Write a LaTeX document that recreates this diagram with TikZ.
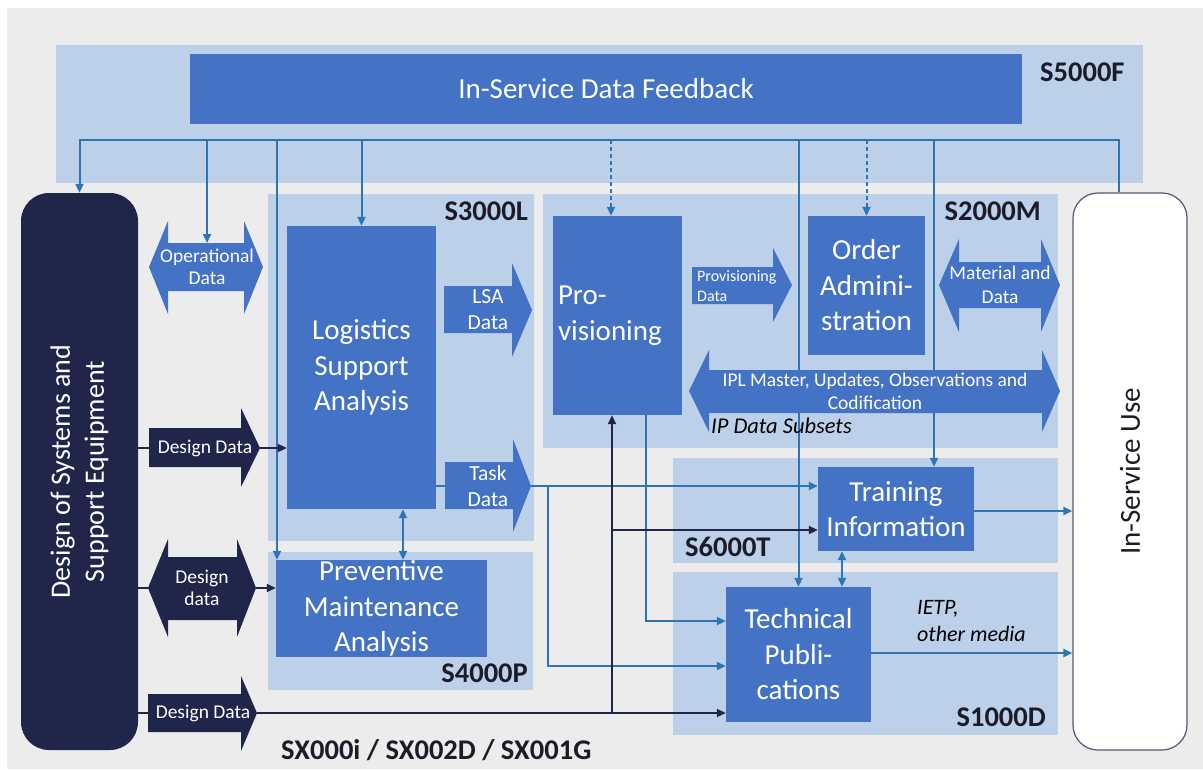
\documentclass[tikz,border=0pt]{standalone}
\usepackage{fontspec}
\setmainfont{Carlito}
\usetikzlibrary{arrows.meta,calc}
\definecolor{bgray}{HTML}{ECECEC}
\definecolor{band}{HTML}{BCD0E9}
\definecolor{boxblue}{HTML}{4472C4}
\definecolor{navy}{HTML}{20264A}
\definecolor{lblue}{HTML}{2E75B6}
\definecolor{lbl}{HTML}{1C1C28}
\definecolor{isuborder}{HTML}{505A6E}
\begin{document}
\begin{tikzpicture}[x=1pt,y=-1pt,
  bandbox/.style={fill=band, draw=none, inner sep=0},
  bluebox/.style={fill=boxblue, draw=none, text=white, inner sep=0, align=center, font=\fontsize{29}{35.5}\selectfont},
  fbl/.style={draw=lblue, line width=2pt},
  nvl/.style={draw=navy, line width=2pt},
  tip/.style={-{Triangle[length=9pt,width=8pt]}},
  dtip/.style={{Triangle[length=9pt,width=8pt]}-{Triangle[length=9pt,width=8pt]}},
  stdlabel/.style={font=\fontsize{28.5}{30}\selectfont\bfseries, text=lbl, inner sep=0},
  smalltxt/.style={text=white, align=center, inner sep=0, font=\fontsize{21.5}{26}\selectfont},
  optxt/.style={text=white, align=center, inner sep=0, font=\fontsize{19.5}{22.5}\selectfont},
  ittxt/.style={text=black, align=left, inner sep=0, font=\fontsize{22.5}{27}\selectfont\itshape},
]
\useasboundingbox (0,0) rectangle (1203,769);
\fill[white] (0,0) rectangle (1203,769);
\fill[bgray] (7,8) rectangle (1203,769);

% bands
\node[bandbox, minimum width=1087, minimum height=138] (s5000f) at (599.5,114) {};
\node[bandbox, minimum width=266, minimum height=347] (s3000l) at (401,367.5) {};
\node[bandbox, minimum width=265, minimum height=138] (s4000p) at (400.5,621) {};
\node[bandbox, minimum width=515, minimum height=254] (s2000m) at (800.5,321) {};
\node[bandbox, minimum width=385, minimum height=105] (s6000t) at (865.5,510.5) {};
\node[bandbox, minimum width=385, minimum height=163] (s1000d) at (865.5,653.5) {};

% main boxes
\node[bluebox, minimum width=832, minimum height=70] (fb) at (606,89) {In-Service Data Feedback};
\node[bluebox, minimum width=149, minimum height=283] (lsa) at (361.5,367.5) {Logistics\\Support\\Analysis};
\node[bluebox, minimum width=211, minimum height=97] (pma) at (381.5,608.5) {Preventive\\Maintenance\\Analysis};
\node[bluebox, minimum height=199, text width=119, inner xsep=5, align=left] (prov) at (617.5,315.5) {Pro-\\visioning};
\node[bluebox, minimum width=117, minimum height=139] (order) at (866.5,285.5) {Order\\Admini-\\stration};
\node[bluebox, minimum width=156, minimum height=84] (train) at (896,509) {Training\\Information};
\node[bluebox, minimum width=145, minimum height=135] (tp) at (798.5,654.5) {Technical\\Publi-\\cations};
\node[fill=navy, rounded corners=28, minimum width=117, minimum height=557, inner sep=0] (design) at (79.5,471.5) {};
\node[rotate=90, text=white, align=center, inner sep=0, font=\fontsize{28}{34}\selectfont] (designtxt) at (design.center) {Design of Systems and\\Support Equipment};
\node[fill=white, draw=isuborder, line width=1.2pt, rounded corners=25, minimum width=114, minimum height=557, inner sep=0] (isu) at (1130,471.5) {};
\node[rotate=90, text=lbl, inner sep=0, font=\fontsize{29}{34}\selectfont] (isutxt) at (isu.center) {In-Service Use};

% named coordinates for connectors
\coordinate (busR) at (1119,140);
\coordinate (opdTop) at (207,243);
\coordinate (xPM) at (277,0);
\coordinate (xProvIn) at (611,0);
\coordinate (xTrIn) at (934,0);
\coordinate (xLP) at (403,0);
\coordinate (xTT) at (842,0);
\coordinate (xTD) at (548,0);
\coordinate (xPB) at (646,0);
\coordinate (xNV) at (612,0);
\coordinate (yTP1) at (0,621);
\coordinate (yTP2) at (0,666);
\coordinate (yTP3) at (0,653);
\coordinate (yTR2) at (0,530);
\coordinate (yTR3) at (0,511);
\coordinate (dd1L) at (149,448);
\coordinate (dd1T) at (260,448);
\coordinate (dd2L) at (148,588);
\coordinate (dd2T) at (256,588);
\coordinate (dd3L) at (148,713);
\coordinate (dd3T) at (257,713);
\coordinate (tdL) at (445,486);
\coordinate (tdT) at (531,486);

% feedback bus
\draw[fbl,tip] (isu.north -| busR) |- (design.north |- busR) -- (design.north);
\draw[fbl,tip] (opdTop |- busR) -- (opdTop);
\draw[fbl,tip] (xPM |- busR) -- (pma.north -| xPM);
\draw[fbl,tip] (lsa.north |- busR) -- (lsa.north);
\draw[fbl,tip,dash pattern=on 4pt off 3pt] (xProvIn |- busR) -- (prov.north -| xProvIn);
\draw[fbl,tip] (tp.north |- busR) -- (tp.north);
\draw[fbl,tip,dash pattern=on 4pt off 3pt] (order.north |- busR) -- (order.north);
\draw[fbl,tip] (xTrIn |- busR) -- (train.north -| xTrIn);

% inner connectors
\draw[fbl,dtip] (lsa.south -| xLP) -- (pma.north -| xLP);
\draw[fbl,dtip] (train.south -| xTT) -- (tp.north -| xTT);
\draw[fbl] (lsa.east |- tdL) -- (tdL);
\draw[fbl,tip] (tdT) -- (train.west |- tdT);
\draw[fbl,tip] (xTD |- tdT) |- (tp.west |- yTP2);
\draw[fbl,tip] (prov.south -| xPB) |- (tp.west |- yTP1);
\draw[fbl,tip] (train.east |- yTR3) -- (isu.west |- yTR3);
\draw[fbl,tip] (tp.east |- yTP3) -- (isu.west |- yTP3);

% navy connectors
\draw[nvl] (design.east |- dd1L) -- (dd1L);
\draw[nvl,tip] (dd1T) -- (lsa.west |- dd1T);
\draw[nvl] (design.east |- dd2L) -- (dd2L);
\draw[nvl,tip] (dd2T) -- (pma.west |- dd2T);
\draw[nvl] (design.east |- dd3L) -- (dd3L);
\draw[nvl,tip] (dd3T) -- (tp.west |- dd3T);
\draw[nvl,tip] (xNV |- dd3T) -- (prov.south -| xNV);
\draw[nvl,tip] (xNV |- yTR2) -- (train.west |- yTR2);

% block arrows (blue)
\fill[boxblue] (444,286) -- (512,286) -- (512,263) -- (532,310) -- (512,357) -- (512,333) -- (444,333) -- cycle;
\node[smalltxt] (lsadata) at (488,310) {LSA\\Data};
\fill[boxblue] (445,462) -- (513,462) -- (513,439) -- (531,486) -- (513,532) -- (513,509) -- (445,509) -- cycle;
\node[smalltxt] (taskdata) at (488,486) {Task\\Data};
\fill[boxblue] (692,267) -- (773,267) -- (773,248) -- (792,285) -- (773,322) -- (773,304) -- (692,304) -- cycle;
\node[text=white, align=left, inner sep=0, anchor=west, font=\fontsize{16}{20}\selectfont] (provdata) at (697,286) {Provisioning\\Data};
\fill[boxblue] (149,267) -- (168,221) -- (168,243) -- (244,243) -- (244,221) -- (263,267) -- (244,314) -- (244,291) -- (168,291) -- (168,314) -- cycle;
\node[optxt] (opdata) at (207,267) {Operational\\Data};
\fill[boxblue] (939,285) -- (959,239) -- (959,262) -- (1041,262) -- (1041,239) -- (1060,285) -- (1041,332) -- (1041,308) -- (959,308) -- (959,332) -- cycle;
\node[optxt, font=\fontsize{19.5}{24}\selectfont] (matdata) at (1000,285) {Material and\\Data};
\fill[boxblue] (689,391) -- (709,350) -- (709,370) -- (1042,370) -- (1042,350) -- (1060,391) -- (1042,432) -- (1042,413) -- (709,413) -- (709,432) -- cycle;
\node[optxt, font=\fontsize{19.5}{23}\selectfont] (ipl) at (875,391) {IPL Master, Updates, Observations and\\Codification};

% block arrows (navy)
\fill[navy] (149,428) -- (241,428) -- (241,408) -- (260,448) -- (241,487) -- (241,467) -- (149,467) -- cycle;
\node[optxt] (dd1) at (205,448) {Design Data};
\fill[navy] (148,588) -- (168,539) -- (168,557) -- (237,557) -- (237,539) -- (256,588) -- (237,637) -- (237,620) -- (168,620) -- (168,637) -- cycle;
\node[optxt, font=\fontsize{19.5}{22.5}\selectfont] (dd2) at (202,588) {Design\\data};
\fill[navy] (148,694) -- (241,694) -- (241,676) -- (257,713) -- (241,751) -- (241,732) -- (148,732) -- cycle;
\node[optxt] (dd3) at (203,713) {Design Data};

% italic annotations
\node[ittxt, anchor=west] (ipds) at (711,426) {IP Data Subsets};
\node[ittxt, anchor=west, font=\fontsize{22}{27}\selectfont\itshape] (ietp) at (917,621) {IETP,\\other media};

% spec labels
\node[stdlabel, anchor=west] (l5000) at (1040,72) {S5000F};
\node[stdlabel, anchor=east] (l3000) at (528,211) {S3000L};
\node[stdlabel, anchor=east] (l2000) at (1041,211) {S2000M};
\node[stdlabel, anchor=east] (l4000) at (528,673) {S4000P};
\node[stdlabel, anchor=west] (l6000) at (685,547) {S6000T};
\node[stdlabel, anchor=east] (l1000) at (1046,717) {S1000D};
\node[stdlabel, anchor=west] (lsx) at (281,750) {SX000i / SX002D / SX001G};
\end{tikzpicture}
\end{document}
